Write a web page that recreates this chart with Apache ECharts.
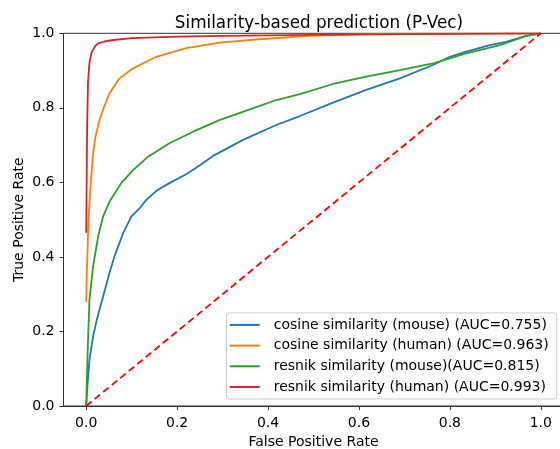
<!DOCTYPE html>
<html><head><meta charset="utf-8">
<script src="https://cdn.jsdelivr.net/npm/echarts@6/dist/echarts.min.js"></script>
<style>html,body{margin:0;padding:0;background:#fff}#c{width:560px;height:449px}</style>
</head><body><div id="c"></div>
<script>
const titleText = 'Similarity-based prediction (P-Vec)';
const xTicks = [0, 0.2, 0.4, 0.6, 0.8, 1.0];
const seriesNames = [
  'cosine similarity (mouse) (AUC=0.755)',
  'cosine similarity (human) (AUC=0.963)',
  'resnik similarity (mouse)(AUC=0.815)',
  'resnik similarity (human) (AUC=0.993)'
];
const cosineMouse = [[0,0],[0.003,0.06],[0.007,0.123],[0.015,0.186],[0.022,0.225],[0.029,0.258],[0.037,0.293],[0.051,0.356],[0.062,0.401],[0.081,0.463],[0.099,0.508],[0.117,0.53],[0.132,0.553],[0.155,0.578],[0.183,0.598],[0.22,0.622],[0.25,0.646],[0.279,0.671],[0.345,0.714],[0.418,0.754],[0.47,0.778],[0.543,0.814],[0.616,0.848],[0.69,0.879],[0.763,0.915],[0.8,0.937],[0.836,0.951],[0.888,0.968],[0.924,0.977],[0.968,0.993],[1,1]];
const cosineHuman = [[0,0.28],[0.001,0.35],[0.003,0.42],[0.004,0.463],[0.006,0.52],[0.01,0.6],[0.015,0.678],[0.02,0.72],[0.029,0.767],[0.04,0.805],[0.051,0.839],[0.073,0.879],[0.103,0.906],[0.154,0.937],[0.22,0.96],[0.293,0.975],[0.38,0.984],[0.49,0.993],[0.6,0.997],[0.75,0.999],[1,1]];
const resnikMouse = [[0,0],[0.002,0.1],[0.004,0.177],[0.007,0.284],[0.015,0.374],[0.026,0.454],[0.037,0.508],[0.051,0.548],[0.077,0.598],[0.103,0.633],[0.136,0.669],[0.183,0.705],[0.235,0.736],[0.293,0.767],[0.36,0.796],[0.418,0.821],[0.47,0.837],[0.543,0.864],[0.616,0.884],[0.69,0.901],[0.763,0.919],[0.836,0.946],[0.91,0.968],[0.968,0.993],[1,1]];
const resnikHuman = [[0,0.465],[0.002,0.75],[0.004,0.87],[0.007,0.92],[0.012,0.95],[0.02,0.966],[0.026,0.973],[0.04,0.978],[0.06,0.982],[0.1,0.987],[0.2,0.991],[0.3,0.993],[0.5,0.996],[0.7,0.998],[1,1]];
const chanceLine = [[0,0],[1,1]];
const colors = ['#1f77b4', '#ff7f0e', '#2ca02c', '#d62728'];

const font = 'DejaVu Sans';
const chart = echarts.init(document.getElementById('c'), null, {renderer: 'canvas'});
const curves = [cosineMouse, cosineHuman, resnikMouse, resnikHuman];
const series = curves.map((d, i) => ({
  name: seriesNames[i], type: 'line', data: d, symbol: 'none', smooth: false,
  lineStyle: {color: colors[i], width: 1.8}, itemStyle: {color: colors[i]}, z: 3 + i
}));
series.push({
  name: 'chance', type: 'line', data: chanceLine, symbol: 'none',
  lineStyle: {color: '#ff0000', width: 1.8, type: [7, 4]}, z: 10
});
chart.setOption({
  animation: false,
  title: {text: titleText, left: 314, top: 10, textAlign: 'center',
    textStyle: {fontFamily: font, fontSize: 16.8, fontWeight: 'normal', color: '#000'}},
  grid: {left: 63.5, top: 33.3, width: 500, bottom: 43, show: true, borderColor: '#333', borderWidth: 1,
    containLabel: false, outerBoundsMode: 'none'},
  legend: {
    orient: 'vertical', right: 3.3, bottom: 50, data: seriesNames,
    icon: 'rect', itemWidth: 30, itemHeight: 2, itemGap: 6.7,
    backgroundColor: 'rgba(255,255,255,0.85)', borderColor: '#ccc', borderWidth: 1, borderRadius: 3,
    padding: [5, 8, 5, 3.3],
    textStyle: {fontFamily: font, fontSize: 14, color: '#000', padding: [0, 0, 0, 9]}
  },
  xAxis: {
    type: 'value', min: -0.05, max: 1.05,
    name: 'False Positive Rate', nameLocation: 'middle', nameGap: 29, nameMoveOverlap: false,
    nameTextStyle: {fontFamily: font, fontSize: 14, color: '#000'},
    axisLine: {show: true, onZero: false, lineStyle: {color: '#333', width: 1}},
    axisTick: {show: true, length: 4, lineStyle: {color: '#333'}, customValues: xTicks},
    axisLabel: {fontFamily: font, fontSize: 14, color: '#000', margin: 10, customValues: xTicks,
      formatter: v => v.toFixed(1)},
    splitLine: {show: false}
  },
  yAxis: {
    type: 'value', min: 0, max: 1, interval: 0.2,
    name: 'True Positive Rate', nameLocation: 'middle', nameGap: 37, nameMoveOverlap: false,
    nameTextStyle: {fontFamily: font, fontSize: 14, color: '#000'},
    axisLine: {show: true, onZero: false, lineStyle: {color: '#333', width: 1}},
    axisTick: {show: true, length: 4, lineStyle: {color: '#333'}},
    axisLabel: {fontFamily: font, fontSize: 14, color: '#000', margin: 9, formatter: v => v.toFixed(1)},
    splitLine: {show: false}
  },
  series: series
});
</script></body></html>
